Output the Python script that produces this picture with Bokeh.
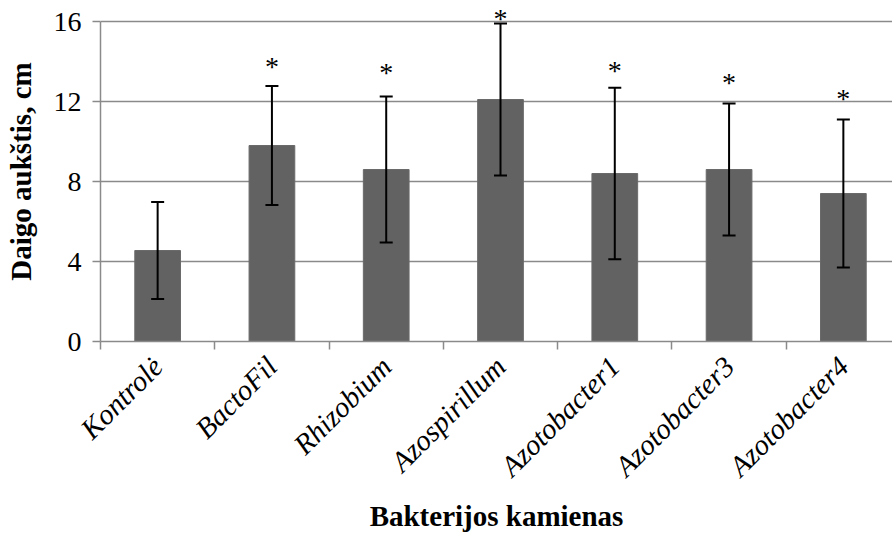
import numpy as np
from bokeh.plotting import figure
from bokeh.models import (ColumnDataSource, Range1d, FixedTicker, Whisker, TeeHead, LabelSet)
from bokeh.embed import file_html
from bokeh.resources import INLINE

# ---- data ----
categories = ["Kontrolė", "BactoFil", "Rhizobium", "Azospirillum",
              "Azotobacter1", "Azotobacter3", "Azotobacter4"]
means = [4.55, 9.8, 8.6, 12.1, 8.4, 8.6, 7.4]
errors = [2.42, 2.98, 3.65, 3.8, 4.29, 3.3, 3.7]
marks = ["", "*", "*", "*", "*", "*", "*"]
mark_y = [0.0, 13.74, 13.44, 16.17, 13.54, 12.94, 12.13]
y_ticks = [0, 4, 8, 12, 16]

n = len(categories)
centers = np.arange(n) + 0.5
bounds = np.arange(n + 1).astype(float)

src = ColumnDataSource(dict(
    x=centers, top=means,
    upper=np.array(means) + np.array(errors),
    lower=np.array(means) - np.array(errors),
    mark=marks, mark_y=mark_y,
))

FONT = "Liberation Serif"
GRAY = "#8a8a8a"

p = figure(width=892, height=535, output_backend="svg", toolbar_location=None,
           x_range=Range1d(0, n - 0.07), y_range=Range1d(0, 17),
           min_border_left=100, min_border_right=0, min_border_top=1,
           min_border_bottom=193)
p.outline_line_color = None
p.background_fill_color = "white"
p.border_fill_color = "white"

p.vbar(x="x", top="top", width=0.4, bottom=0, source=src,
       fill_color="#626262", line_color="#6a6a6a", line_width=1)

w = Whisker(source=src, base="x", upper="upper", lower="lower",
            line_color="black", line_width=2, level="overlay",
            upper_head=TeeHead(size=13, line_color="black", line_width=2),
            lower_head=TeeHead(size=13, line_color="black", line_width=2))
p.add_layout(w)

stars = LabelSet(source=src, x="x", y="mark_y", text="mark", level="overlay",
                 text_align="center", text_baseline="middle",
                 text_font=FONT, text_font_size="28px", text_color="black")
p.add_layout(stars)

# y axis
p.yaxis.ticker = FixedTicker(ticks=y_ticks)
p.yaxis.bounds = (0, 16)
p.yaxis.axis_line_color = GRAY
p.yaxis.axis_line_width = 1.5
p.yaxis.major_tick_line_color = GRAY
p.yaxis.major_tick_line_width = 1.5
p.yaxis.major_tick_out = 8
p.yaxis.major_tick_in = 0
p.yaxis.minor_tick_line_color = None
p.yaxis.major_label_text_font = FONT
p.yaxis.major_label_text_font_size = "28px"
p.yaxis.major_label_text_color = "black"
p.yaxis.major_label_standoff = 11
p.yaxis.axis_label = "Daigo aukštis, cm"
p.yaxis.axis_label_text_font = FONT
p.yaxis.axis_label_text_font_size = "29px"
p.yaxis.axis_label_text_font_style = "bold"
p.yaxis.axis_label_text_color = "black"
p.yaxis.axis_label_standoff = 14

# x axis
p.xaxis.ticker = FixedTicker(ticks=list(centers), minor_ticks=list(bounds))
p.xaxis.major_label_overrides = {float(c): lab for c, lab in zip(centers, categories)}
p.xaxis.axis_line_color = GRAY
p.xaxis.axis_line_width = 1.5
p.xaxis.major_tick_line_color = None
p.xaxis.major_tick_out = 0
p.xaxis.major_tick_in = 0
p.xaxis.minor_tick_line_color = GRAY
p.xaxis.minor_tick_line_width = 1.5
p.xaxis.minor_tick_out = 8
p.xaxis.minor_tick_in = 0
p.xaxis.major_label_orientation = np.pi / 4
p.xaxis.major_label_text_font = FONT
p.xaxis.major_label_text_font_size = "29px"
p.xaxis.major_label_text_font_style = "italic"
p.xaxis.major_label_text_color = "black"
p.xaxis.major_label_standoff = 12
p.xaxis.axis_label = "Bakterijos kamienas"
p.xaxis.axis_label_text_font = FONT
p.xaxis.axis_label_text_font_size = "29px"
p.xaxis.axis_label_text_font_style = "bold"
p.xaxis.axis_label_text_color = "black"
p.xaxis.axis_label_standoff = 4

p.xgrid.grid_line_color = None
p.ygrid.grid_line_color = GRAY
p.ygrid.grid_line_width = 1.5

open("out.html", "w").write(file_html(p, INLINE))
